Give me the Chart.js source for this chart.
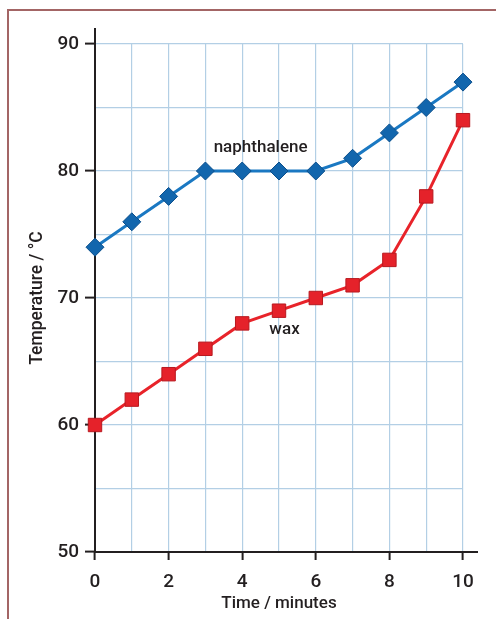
<html>
  <head>
    <script src="https://cdn.jsdelivr.net/npm/chart.js"></script>
    <style>
      body { margin: 0; background: #ffffff; }
      #frame {
        position: absolute; left: 7px; top: 9px; width: 600px; height: 700px;
        border-left: 2px solid #a36565; border-top: 2px solid #a36565;
      }
      #wrap { position: absolute; left: 0; top: 0; width: 496px; height: 619px; }
    </style>
  </head>
  <body>
    <div id="frame"></div>
    <div id="wrap"><canvas id="melt_chart"></canvas></div>
    <script>
      // Data
      const minutes = [0, 1, 2, 3, 4, 5, 6, 7, 8, 9, 10];
      const naphthalene = [74, 76, 78, 80, 80, 80, 80, 81, 83, 85, 87];
      const wax = [60, 62, 64, 66, 68, 69, 70, 71, 73, 78, 84];
      const temp_ticks = [50, 60, 70, 80, 90];
      const time_ticks = [0, 2, 4, 6, 8, 10];

      const ink = "#231f20";
      const font_family = "'Roboto', sans-serif";

      // Axis lines that run past the grid, plus the series names
      const extras = {
        id: "extras",
        beforeDatasetsDraw(chart) {
          const { ctx, chartArea } = chart;
          ctx.save();
          ctx.strokeStyle = ink;
          ctx.lineWidth = 2;
          ctx.beginPath();
          ctx.moveTo(chartArea.left, chartArea.top - 16);
          ctx.lineTo(chartArea.left, chartArea.bottom);
          ctx.lineTo(chartArea.right + 15, chartArea.bottom);
          ctx.stroke();
          ctx.restore();
        },
        afterDatasetsDraw(chart) {
          const { ctx, scales } = chart;
          ctx.save();
          ctx.fillStyle = ink;
          ctx.font = "500 17px " + font_family;
          ctx.textAlign = "center";
          ctx.textBaseline = "middle";
          ctx.fillText("naphthalene", scales.x.getPixelForValue(4.5), scales.y.getPixelForValue(81.8));
          ctx.fillText("wax", scales.x.getPixelForValue(5.15), scales.y.getPixelForValue(67.5));
          ctx.restore();
        },
      };

      const to_points = (ys) => minutes.map((m, i) => ({ x: m, y: ys[i] }));

      new Chart("melt_chart", {
        type: "line",
        data: {
          datasets: [
            {
              label: "naphthalene",
              data: to_points(naphthalene),
              borderColor: "#1a78c2",
              borderWidth: 3,
              pointStyle: "rectRot",
              pointRadius: 9,
              pointBackgroundColor: "#1266ad",
              pointBorderColor: "#0b4f8c",
              pointBorderWidth: 1,
              clip: false,
            },
            {
              label: "wax",
              data: to_points(wax),
              borderColor: "#e8232a",
              borderWidth: 3,
              pointStyle: "rect",
              pointRadius: 9.5,
              pointBackgroundColor: "#e5222a",
              pointBorderColor: "#b8191f",
              pointBorderWidth: 1,
              clip: false,
            },
          ],
        },
        plugins: [extras],
        options: {
          responsive: true,
          maintainAspectRatio: false,
          animation: false,
          layout: { padding: { top: 44, right: 33, bottom: 0, left: 0 } },
          plugins: {
            legend: { display: false },
            tooltip: { enabled: false },
          },
          scales: {
            x: {
              type: "linear",
              min: 0,
              max: 10,
              afterFit: (s) => { s.height = 67; },
              border: { display: false },
              grid: {
                color: "#b3cfe5",
                lineWidth: 1.2,
                tickLength: 8,
                tickWidth: 2,
                tickColor: (c) => (time_ticks.includes(c.tick.value) ? ink : "transparent"),
              },
              ticks: {
                stepSize: 1,
                padding: 11,
                color: ink,
                maxRotation: 0,
                autoSkip: false,
                font: { family: font_family, size: 19, weight: 500 },
                callback: (v) => (time_ticks.includes(v) ? v : ""),
              },
              title: {
                display: true,
                text: "Time / minutes",
                color: ink,
                font: { family: font_family, size: 17, weight: 500 },
                padding: { top: 0, bottom: 5 },
              },
            },
            y: {
              min: 50,
              max: 90,
              afterFit: (s) => { s.width = 95; },
              border: { display: false },
              grid: {
                color: "#b3cfe5",
                lineWidth: 1.2,
                tickLength: 10,
                tickWidth: 2,
                tickColor: (c) => (temp_ticks.includes(c.tick.value) ? ink : "transparent"),
              },
              ticks: {
                stepSize: 5,
                padding: 6,
                color: ink,
                autoSkip: false,
                font: { family: font_family, size: 19, weight: 500 },
                callback: (v) => (temp_ticks.includes(v) ? v : ""),
              },
              title: {
                display: true,
                text: "Temperature / \u00b0C",
                color: ink,
                font: { family: font_family, size: 17.5, weight: 500 },
                padding: { top: 27, bottom: 0 },
              },
            },
          },
        },
      });
    </script>
  </body>
</html>
